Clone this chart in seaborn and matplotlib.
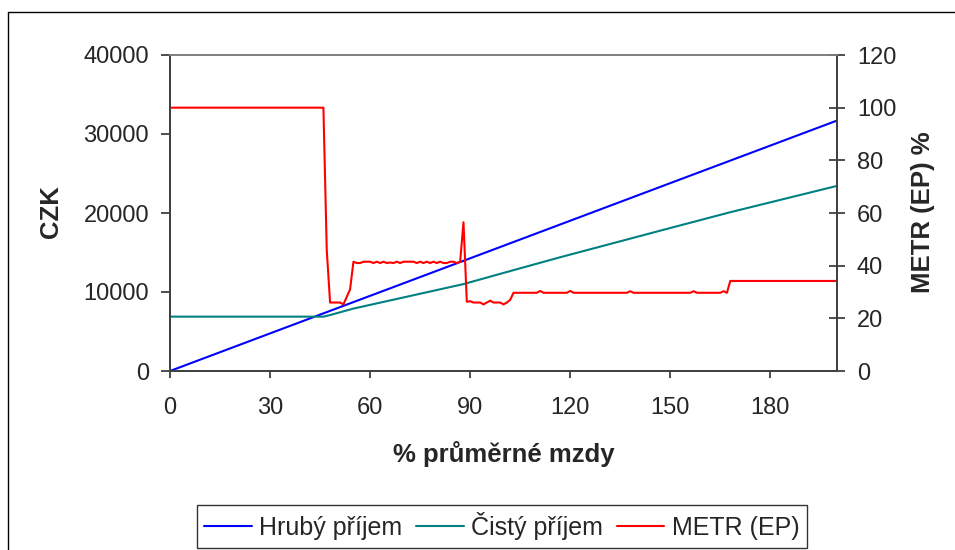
import matplotlib
matplotlib.use("Agg")
import matplotlib.pyplot as plt
from matplotlib.lines import Line2D
import seaborn as sns
import pandas as pd

# ---- data ----
gross_x = [0, 50, 100, 150, 200]
gross = [0, 7930, 15850, 23780, 31700]

net_x = [0, 46, 48, 52, 55, 88, 102, 117, 150, 168, 200]
net = [6880, 6880, 7080, 7550, 7900, 11000, 12650, 14400, 18100, 20100, 23430]

metr_x = [0, 46, 47, 48, 51, 52, 54,
          55, 56, 57, 58, 59, 60, 61, 62, 63, 64, 65, 66, 67, 68, 69, 70,
          71, 72, 73, 74, 75, 76, 77, 78, 79, 80, 81, 82, 83, 84, 85, 86, 87,
          88, 89, 90, 91, 92, 93, 94, 95, 96, 97, 98, 99, 100, 101, 102, 103,
          110, 111, 112, 119, 120, 121, 137, 138, 139, 156, 157, 158,
          165, 166, 167, 168, 200]
metr = [100, 100, 46, 26, 26, 25.3, 31,
        41.5, 41.0, 41.0, 41.5, 41.5, 41.5, 41.0, 41.5, 41.0, 41.5, 41.0, 41.2, 41.0, 41.5, 41.0, 41.5,
        41.5, 41.5, 41.5, 41.0, 41.5, 41.0, 41.5, 41.0, 41.5, 41.0, 41.5, 41.0, 41.0, 41.5, 41.5, 41.0, 41.5,
        56.5, 26.3, 26.5, 26.0, 26.0, 26.0, 25.3, 26.0, 26.7, 26.0, 26.0, 26.0, 25.3, 26.0, 27.0, 29.7,
        29.7, 30.4, 29.7, 29.7, 30.4, 29.7, 29.7, 30.3, 29.7, 29.7, 30.3, 29.7,
        29.7, 30.3, 29.7, 34.2, 34.2]

x_ticks = [0, 30, 60, 90, 120, 150, 180]
left_ticks = [0, 10000, 20000, 30000, 40000]
right_ticks = [0, 20, 40, 60, 80, 100, 120]

labels = ["Hrubý příjem", "Čistý příjem", "METR (EP)"]
colors = ["#0000FF", "#008080", "#FF0000"]

# ---- style ----
sns.set_style("white")
plt.rcParams["font.family"] = ["Liberation Sans", "DejaVu Sans"]

FS_TICK = 17
FS_LABEL = 18.5
FS_LEG = 18

fig = plt.figure(figsize=(9.55, 5.5), dpi=100)
ax = fig.add_axes([170 / 955, 1 - 371 / 550, (837 - 170) / 955, (371 - 55) / 550])
ax2 = ax.twinx()

df_g = pd.DataFrame({"x": gross_x, "y": gross})
df_n = pd.DataFrame({"x": net_x, "y": net})
df_m = pd.DataFrame({"x": metr_x, "y": metr})

sns.lineplot(data=df_g, x="x", y="y", ax=ax, color=colors[0], linewidth=1.5, legend=False)
sns.lineplot(data=df_n, x="x", y="y", ax=ax, color=colors[1], linewidth=1.5, legend=False)
sns.lineplot(data=df_m, x="x", y="y", ax=ax2, color=colors[2], linewidth=1.5, legend=False)

ax.set_xlim(0, 200)
ax.set_ylim(0, 40000)
ax2.set_ylim(0, 120)
ax.set_xticks(x_ticks)
ax.set_yticks(left_ticks)
ax2.set_yticks(right_ticks)
ax.set_xticklabels([str(v) for v in x_ticks], fontsize=FS_TICK)
ax.set_yticklabels([str(v) for v in left_ticks], fontsize=FS_TICK)
ax2.set_yticklabels([str(v) for v in right_ticks], fontsize=FS_TICK)

axis_col = "#404040"
for a in (ax, ax2):
    for s in ("left", "right", "bottom"):
        a.spines[s].set_color(axis_col)
        a.spines[s].set_linewidth(1.3)
    a.spines["top"].set_color("#808080")
    a.spines["top"].set_linewidth(1.3)

ax.tick_params(axis="x", direction="out", length=5, width=1.3, color=axis_col, pad=14,
               bottom=True)
ax.tick_params(axis="y", direction="out", length=6.5, width=1.3, color=axis_col, pad=8.5,
               left=True)
ax2.tick_params(axis="y", direction="inout", length=11.5, width=1.3, color=axis_col, pad=8.5,
                right=True)

ax.set_xlabel("% průměrné mzdy", fontsize=FS_LABEL, fontweight="bold")
ax.xaxis.set_label_coords(0.5, (371 - 441) / 316)

ax.set_ylabel("CZK", fontsize=FS_LABEL, fontweight="bold")
ax.yaxis.set_label_coords((51 - 170) / 667, (371 - 212) / 316)
ax.yaxis.label.set_verticalalignment("center")

ax2.set_ylabel("METR (EP) %", fontsize=FS_LABEL, fontweight="bold")
ax2.yaxis.set_label_coords((923 - 170) / 667, (371 - 212) / 316)
ax2.yaxis.label.set_verticalalignment("center")

# legend
handles = [Line2D([0], [0], color=c, linewidth=1.5) for c in colors]
leg = fig.legend(handles, labels, loc="center", bbox_to_anchor=(502 / 955, 1 - 526 / 550),
                 ncol=3, fontsize=FS_LEG, frameon=True, fancybox=False, edgecolor="black",
                 handlelength=1.9, handletextpad=0.3, columnspacing=0.55,
                 borderpad=0.3, borderaxespad=0)
leg.get_frame().set_linewidth(1.0)

# outer chart border (top and left visible)
fig.add_artist(Line2D([8 / 955, 8 / 955], [0, 1 - 12 / 550], color="black", linewidth=1.0,
                      transform=fig.transFigure))
fig.add_artist(Line2D([8 / 955, 1], [1 - 12 / 550, 1 - 12 / 550], color="black", linewidth=1.0,
                      transform=fig.transFigure))

fig.savefig("out.png", dpi=100)
